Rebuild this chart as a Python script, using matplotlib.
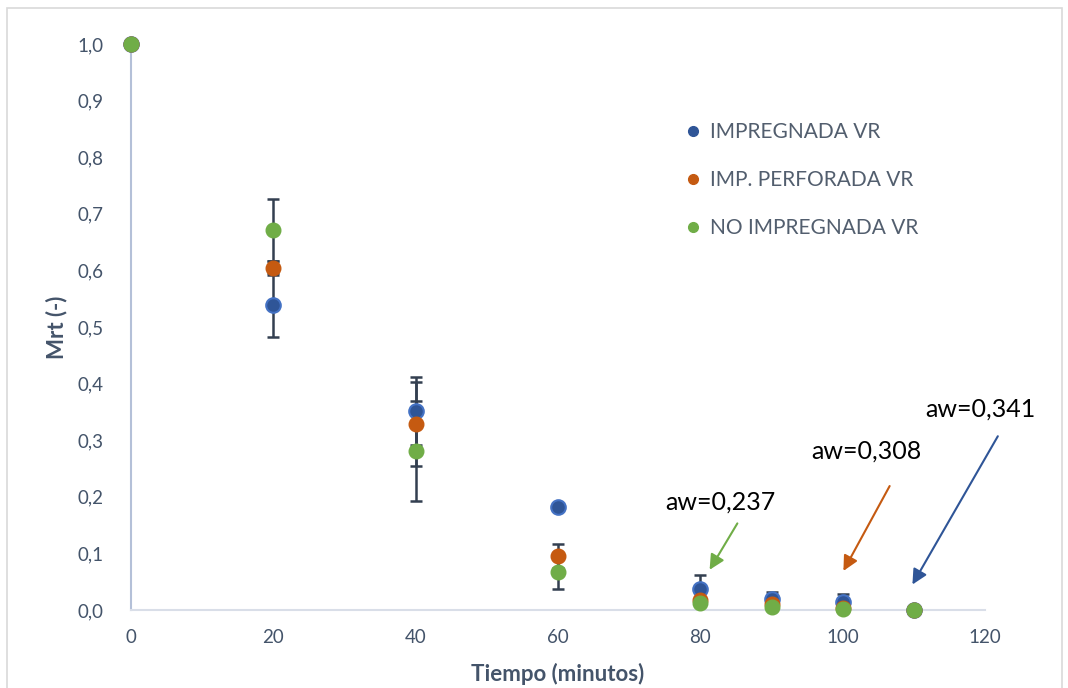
import matplotlib.pyplot as plt
from matplotlib.lines import Line2D

plt.rcParams['font.family'] = ['Lato', 'DejaVu Sans']

# datos
tiempo = [0, 20, 40, 60, 80, 90, 100, 110]
impregnada = [1.0, 0.539, 0.352, 0.182, 0.037, 0.019, 0.014, 0.0]
imp_perforada = [1.0, 0.604, 0.328, 0.096, 0.018, 0.010, 0.003, 0.0]
no_impregnada = [1.0, 0.671, 0.281, 0.067, 0.013, 0.005, 0.001, 0.0]
err_impregnada = [0, 0.057, 0.060, 0, 0.025, 0.013, 0.014, 0]
err_perforada = [0, 0.012, 0.074, 0.021, 0, 0, 0, 0]
err_no_impregnada = [0, 0.055, 0.088, 0.030, 0, 0, 0, 0]

azul, azul_borde = '#2F5597', '#4472C4'
naranja = '#C55A11'
verde = '#70AD47'
texto = '#44546A'
err_col = '#333F50'

fig = plt.figure(figsize=(10.68, 6.88), dpi=100)
ax = fig.add_axes([0.1227, 0.1134, 0.7996, 0.8226])

# borde del grafico
fig.add_artist(plt.Rectangle((7 / 1068, -0.05), 1055 / 1068, 1 - 8 / 688 + 0.05,
                             transform=fig.transFigure, fill=False,
                             edgecolor='#D9D9D9', lw=1.2))

for y, e in [(impregnada, err_impregnada), (imp_perforada, err_perforada),
             (no_impregnada, err_no_impregnada)]:
    ax.errorbar(tiempo, y, yerr=e, fmt='none', ecolor=err_col, elinewidth=1.8,
                capsize=4.5, capthick=1.8, zorder=2, clip_on=False)

ax.plot(tiempo, impregnada, 'o', color=azul, mec=azul_borde, mew=1.5, ms=10.5,
        zorder=3, clip_on=False)
ax.plot(tiempo, imp_perforada, 'o', color=naranja, mec=naranja, ms=10.5,
        zorder=4, clip_on=False)
ax.plot(tiempo, no_impregnada, 'o', color=verde, mec=verde, ms=10.5,
        zorder=5, clip_on=False)

ax.set_xlim(0, 120)
ax.set_ylim(0, 1.0)
ax.set_xticks(range(0, 121, 20))
ax.set_yticks([i / 10 for i in range(11)])
ax.set_yticklabels([f'{i / 10:.1f}'.replace('.', ',') for i in range(11)])
ax.tick_params(length=0, labelsize=13.5, colors=texto, pad=14)
ax.tick_params(axis='y', pad=20)
for s in ['top', 'right']:
    ax.spines[s].set_visible(False)
ax.spines['left'].set_color('#B4C0D8')
ax.spines['left'].set_linewidth(1.5)
ax.spines['bottom'].set_color('#D9DEE8')
ax.spines['bottom'].set_linewidth(1.5)

ax.set_xlabel('Tiempo (minutos)', fontsize=16, fontweight='bold', color=texto, labelpad=12)
ax.set_ylabel('Mrt (-)', fontsize=16, fontweight='bold', color=texto)
ax.yaxis.set_label_coords(-0.075, 0.5)

# leyenda
handles = [Line2D([], [], ls='', marker='o', color=c, ms=7) for c in (azul, naranja, verde)]
ax.legend(handles, ['IMPREGNADA VR', 'IMP. PERFORADA VR', 'NO IMPREGNADA VR'],
          loc='upper left', bbox_to_anchor=(0.624, 0.895), frameon=False,
          fontsize=15, labelcolor='#525E6E', handletextpad=0.3,
          handlelength=1.0, labelspacing=1.35)

# anotaciones aw
anot = [('aw=0,237', verde, (82.8, 0.19), (85.2, 0.153), (81.3, 0.071)),
        ('aw=0,308', naranja, (103.3, 0.28), (106.6, 0.219), (100.1, 0.069)),
        ('aw=0,341', azul, (119.3, 0.355), (121.8, 0.307), (109.8, 0.045))]
for txt, col, pt, tail, head in anot:
    ax.text(pt[0], pt[1], txt, fontsize=18, color='black', ha='center', va='center',
            clip_on=False)
    ax.annotate('', xy=head, xytext=tail, annotation_clip=False,
                arrowprops=dict(arrowstyle='-|>,head_length=0.9,head_width=0.45',
                                color=col, lw=1.5, shrinkA=0, shrinkB=0))

fig.savefig('out.png', dpi=100)
